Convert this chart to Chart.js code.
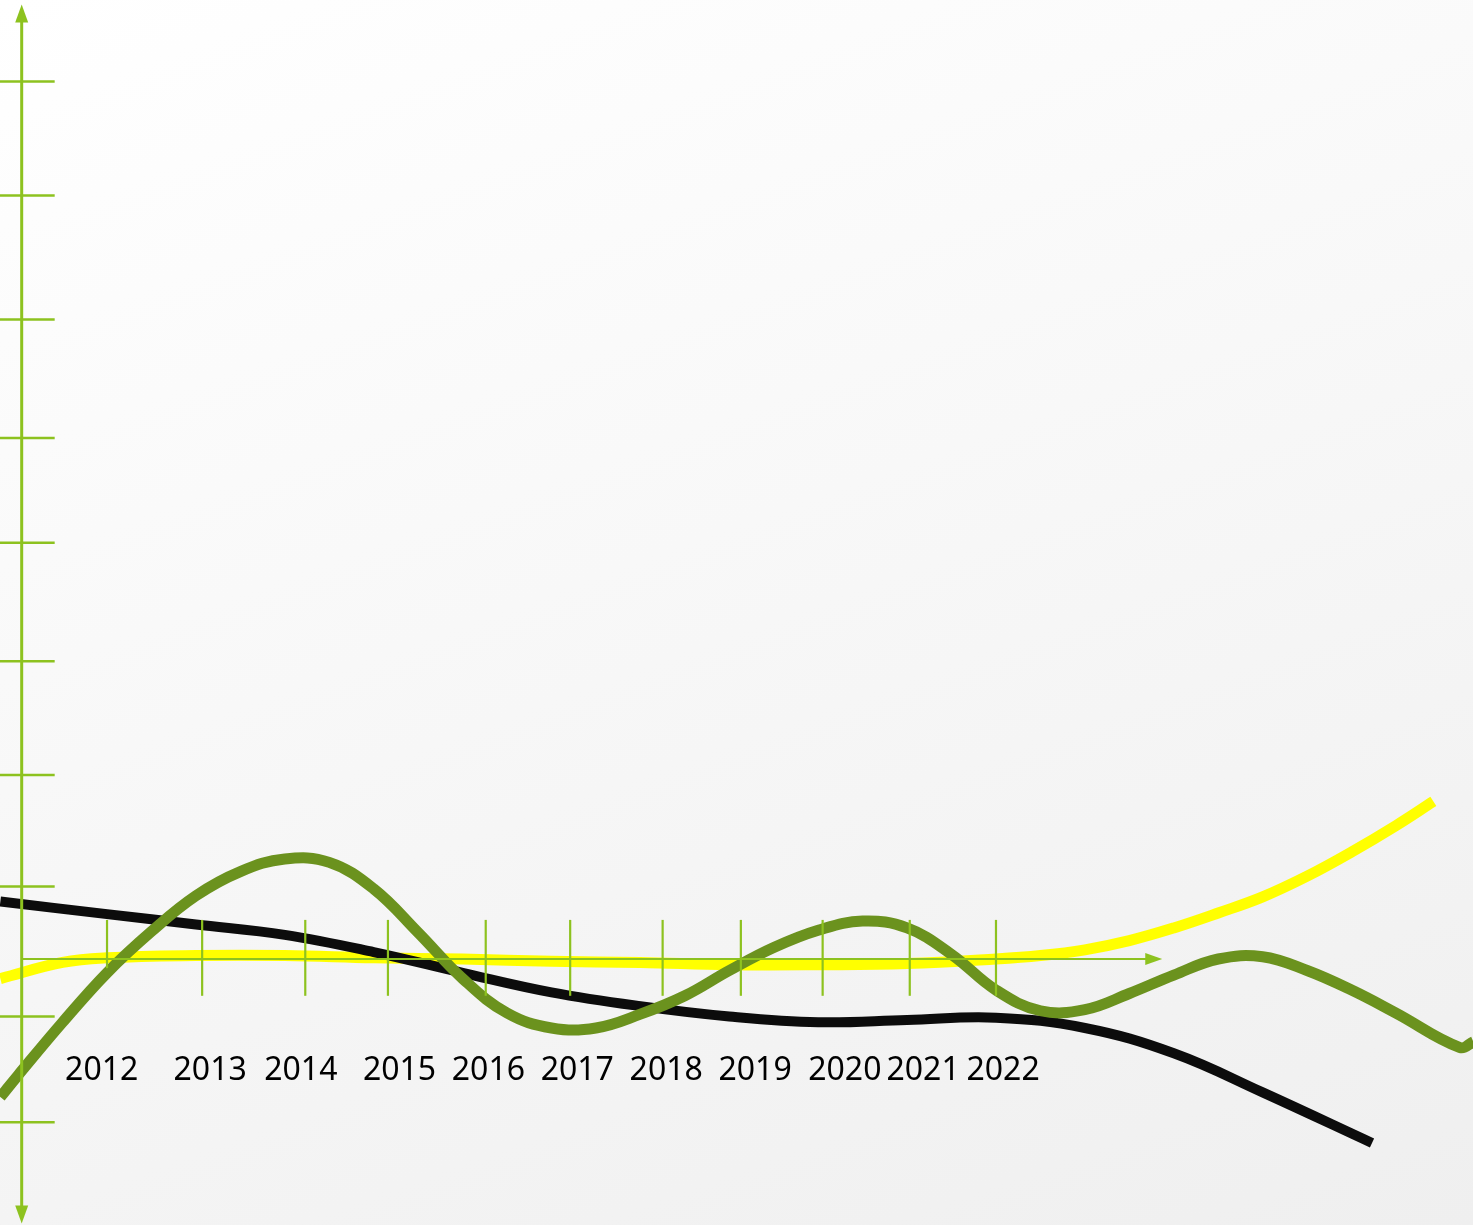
<!DOCTYPE html>
<html>
<head>
<meta charset="utf-8">
<script src="https://cdn.jsdelivr.net/npm/chart.js@4.4.0/dist/chart.umd.min.js"></script>
<style>
  html, body { margin: 0; padding: 0; }
  body {
    width: 1473px; height: 1225px; overflow: hidden;
    background: linear-gradient(160deg, #ffffff 0%, #f8f8f8 45%, #efefef 100%);
  }
  canvas { display: block; }
</style>
</head>
<body>
<canvas id="trendChart" width="1473" height="1225"></canvas>
<script>
// values (x in years, y in axis units, 0 = the year axis)
const yearLabels = ['2012', '2013', '2014', '2015', '2016', '2017', '2018', '2019', '2020', '2021', '2022'];
const labelPos = [2011.94, 2013.16, 2014.18, 2015.29, 2016.29, 2017.29, 2018.29, 2019.29, 2020.30, 2021.18, 2022.08];
const yearTicks = [2012.0, 2013.07, 2014.23, 2015.16, 2016.26, 2017.21, 2018.25, 2019.13, 2020.05, 2021.03, 2022.0];
const valueTicks = [7.63, 6.64, 5.56, 4.53, 3.62, 2.59, 1.60, 0.63, -0.50, -1.42];

const blackX = [2010.8, 2012, 2013, 2014, 2015, 2016, 2017, 2018, 2019, 2020, 2021, 2022, 2023, 2024, 2025, 2026.23];
const blackY = [0.50, 0.39, 0.30, 0.21, 0.06, -0.12, -0.29, -0.41, -0.50, -0.55, -0.53, -0.51, -0.60, -0.82, -1.16, -1.60];

const yellowX = [2010.8, 2011.5, 2012, 2013, 2014, 2015, 2016, 2017, 2018, 2019, 2020, 2021, 2022, 2022.5, 2023, 2023.5, 2024, 2024.5, 2025, 2025.5, 2026, 2026.5, 2026.92];
const yellowY = [-0.17, -0.03, 0.01, 0.03, 0.03, 0.01, 0.00, -0.02, -0.03, -0.05, -0.05, -0.04, 0.00, 0.03, 0.08, 0.16, 0.27, 0.40, 0.54, 0.72, 0.93, 1.16, 1.37];

const oliveX = [2010.8, 2011, 2011.5, 2012, 2012.5, 2013, 2013.5, 2014, 2014.5, 2015, 2015.5, 2016, 2016.5, 2017, 2017.5, 2018, 2018.5, 2019, 2019.5, 2020, 2020.5, 2021, 2021.5, 2022, 2022.5, 2023, 2023.5, 2024, 2024.5, 2025, 2025.5, 2026, 2026.5, 2027.22, 2027.37];
const oliveY = [-1.20, -1.01, -0.55, -0.12, 0.24, 0.55, 0.76, 0.87, 0.84, 0.61, 0.23, -0.17, -0.47, -0.60, -0.60, -0.48, -0.32, -0.10, 0.10, 0.25, 0.33, 0.27, 0.04, -0.27, -0.45, -0.44, -0.30, -0.14, 0.00, 0.02, -0.10, -0.27, -0.47, -0.77, -0.72];

const axisGreen = '#8dc21f';

function pts(xs, ys) {
    return xs.map((x, i) => ({ x: x, y: ys[i] }));
}

// hand drawn looking axes, placed with the chart's own scales
const greenAxes = {
    id: 'greenAxes',
    afterDatasetsDraw(chart) {
        const c = chart.ctx;
        const xs = chart.scales.x;
        const ys = chart.scales.y;
        const left = chart.chartArea.left;
        const ax = xs.getPixelForValue(2011.04);   // vertical axis
        const ay = ys.getPixelForValue(0);         // year axis
        const top = ys.getPixelForValue(8.30);
        const bottom = ys.getPixelForValue(-2.30);
        const xEnd = xs.getPixelForValue(2023.87);

        c.save();
        c.strokeStyle = axisGreen;
        c.fillStyle = axisGreen;

        // vertical axis with arrows both ends
        c.lineWidth = 3;
        c.beginPath();
        c.moveTo(ax, top + 14);
        c.lineTo(ax, bottom - 14);
        c.stroke();
        c.beginPath();
        c.moveTo(ax, top); c.lineTo(ax - 6.5, top + 18); c.lineTo(ax + 6.5, top + 18); c.closePath();
        c.fill();
        c.beginPath();
        c.moveTo(ax, bottom); c.lineTo(ax - 6.5, bottom - 18); c.lineTo(ax + 6.5, bottom - 18); c.closePath();
        c.fill();

        // value ticks
        c.lineWidth = 2.5;
        valueTicks.forEach(v => {
            const py = ys.getPixelForValue(v);
            c.beginPath();
            c.moveTo(left, py);
            c.lineTo(ax + 33, py);
            c.stroke();
        });

        // year axis with arrow
        c.lineWidth = 2;
        c.beginPath();
        c.moveTo(ax, ay);
        c.lineTo(xEnd - 14, ay);
        c.stroke();
        c.beginPath();
        c.moveTo(xEnd, ay); c.lineTo(xEnd - 17, ay - 6); c.lineTo(xEnd - 17, ay + 6); c.closePath();
        c.fill();

        // year ticks
        c.lineWidth = 2.2;
        yearTicks.forEach((t, i) => {
            const px = xs.getPixelForValue(t);
            c.beginPath();
            c.moveTo(px, ys.getPixelForValue(0.34));
            c.lineTo(px, ys.getPixelForValue(i === 0 ? -0.08 : -0.32));
            c.stroke();
        });

        // year labels
        c.fillStyle = '#000000';
        c.font = '32px "Noto Sans", sans-serif';
        c.textAlign = 'center';
        c.textBaseline = 'middle';
        const ly = ys.getPixelForValue(-0.97);
        yearLabels.forEach((lab, i) => {
            c.fillText(lab, xs.getPixelForValue(labelPos[i]), ly);
        });
        c.restore();
    }
};

document.addEventListener('DOMContentLoaded', function() {
    const ctx = document.getElementById('trendChart').getContext('2d');

    new Chart(ctx, {
        type: 'line',
        data: {
            datasets: [
                {
                    label: 'olive',
                    data: pts(oliveX, oliveY),
                    borderColor: '#6b921e',
                    borderWidth: 11,
                    order: 1
                },
                {
                    label: 'black',
                    data: pts(blackX, blackY),
                    borderColor: '#0c0c0c',
                    borderWidth: 10,
                    order: 2
                },
                {
                    label: 'yellow',
                    data: pts(yellowX, yellowY),
                    borderColor: '#ffff00',
                    borderWidth: 11,
                    order: 3
                }
            ]
        },
        options: {
            responsive: false,
            maintainAspectRatio: false,
            animation: false,
            layout: { padding: 0 },
            elements: {
                point: { radius: 0, hoverRadius: 0 },
                line: { tension: 0.4, fill: false }
            },
            plugins: {
                legend: { display: false },
                tooltip: { enabled: false }
            },
            scales: {
                x: { type: 'linear', min: 2010.796, max: 2027.366, display: false },
                y: { type: 'linear', min: -2.313, max: 8.339, display: false }
            }
        },
        plugins: [greenAxes]
    });
});
</script>
</body>
</html>
